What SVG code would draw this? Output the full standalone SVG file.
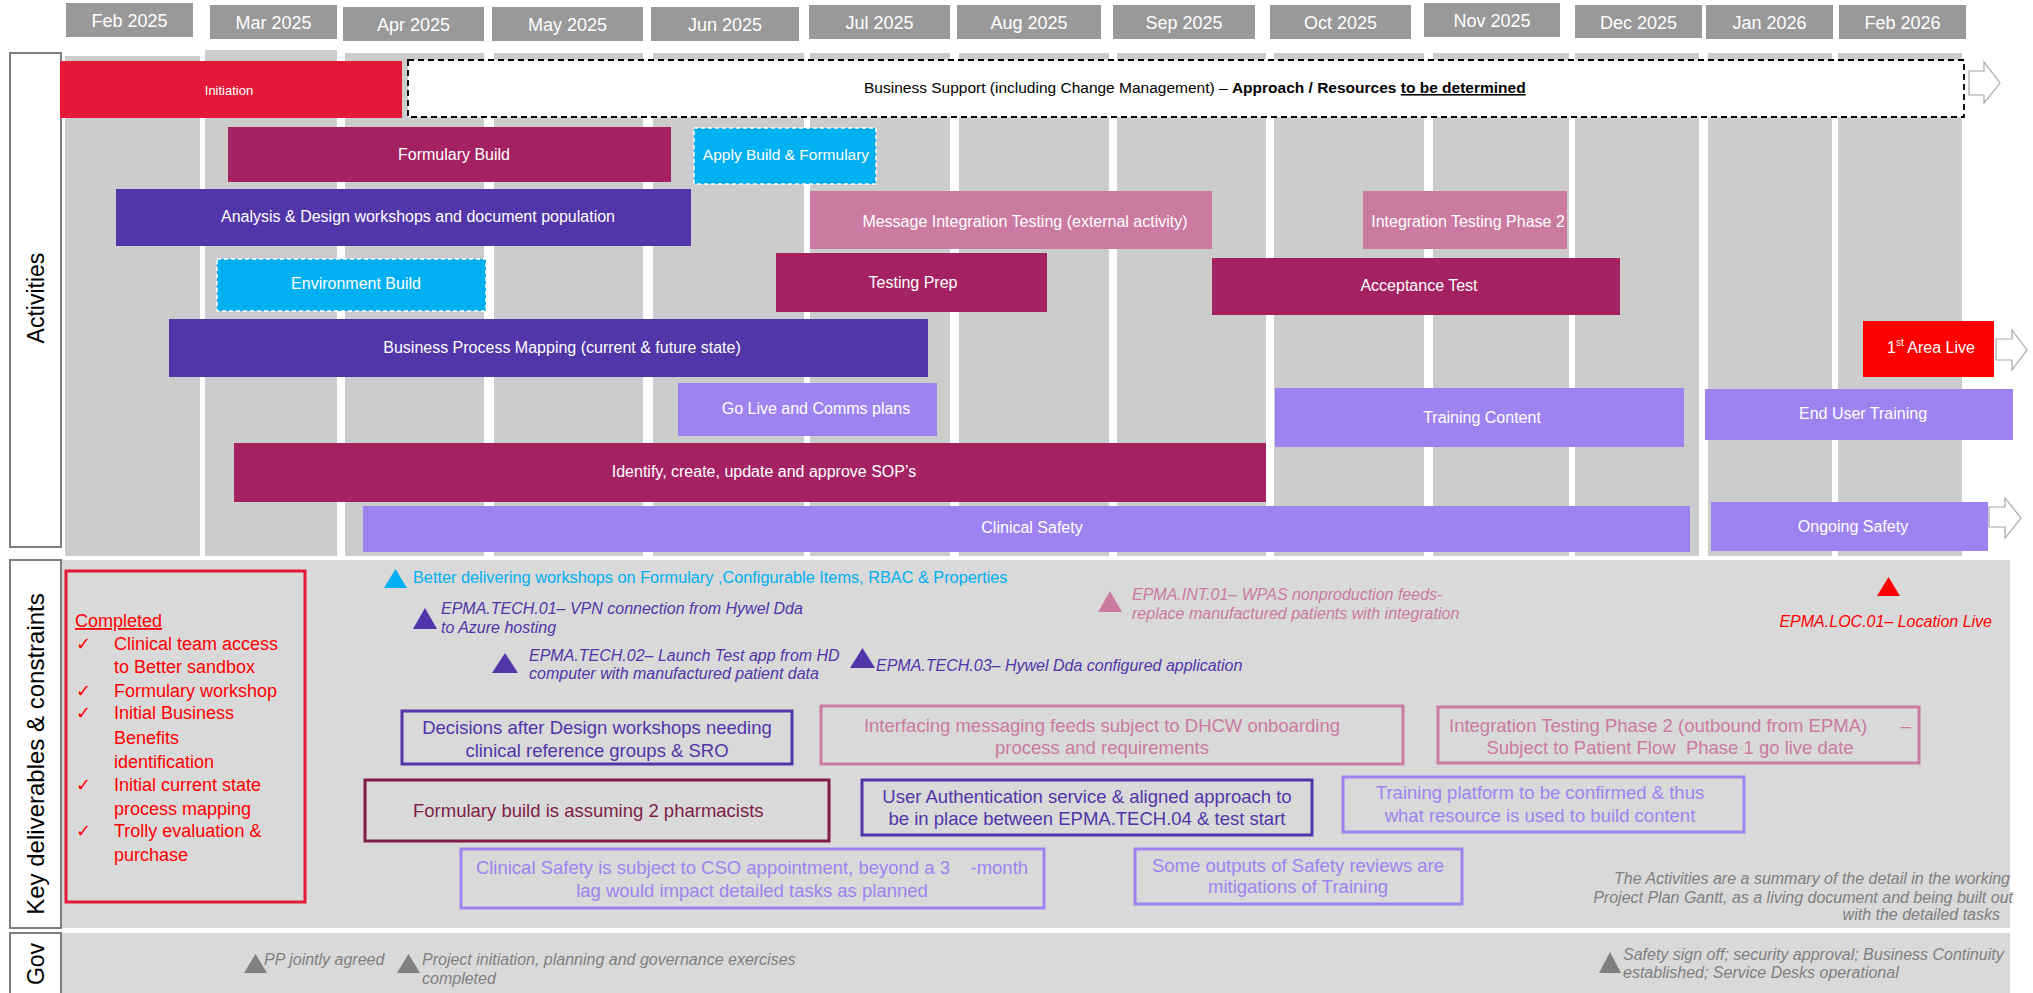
<svg xmlns="http://www.w3.org/2000/svg" width="2033" height="993" viewBox="0 0 2033 993">
<style>
text{font-family:"Liberation Sans",Arial,sans-serif}
.mh{fill:#999999}
.mt{fill:#ffffff;font-size:18px;text-anchor:middle}
.col{fill:#cccccc}
.lbl{fill:#ffffff;stroke:#7f7f7f;stroke-width:2}
.lt{fill:#000000;font-size:23px;text-anchor:middle}
.bt{fill:#ffffff;font-size:16px;text-anchor:middle}
.mag{fill:#a52262}
.dpu{fill:#5135a9}
.lpu{fill:#9e83f0}
.pnk{fill:#cb7aa1}
.cy{fill:#00b0f0;stroke:#ffffff;stroke-width:1.5;stroke-dasharray:4 3}
.oa{fill:#ffffff;stroke:#a6a6a6;stroke-width:1.2}
.box{fill:none;stroke-width:3}
.bx{font-size:18.5px;text-anchor:middle}
.bs{font-size:18.5px;text-anchor:start}
.it{font-style:italic;font-size:16px}
.gv{font-style:italic;font-size:16px;fill:#7f7f7f}
</style>

<!-- month headers -->
<g id="months">
<rect class="mh" x="66" y="3" width="127" height="34"/><text class="mt" x="129.5" y="27">Feb 2025</text>
<rect class="mh" x="210" y="5" width="127" height="34"/><text class="mt" x="273.5" y="29">Mar 2025</text>
<rect class="mh" x="343" y="7" width="141" height="34"/><text class="mt" x="413.5" y="31">Apr 2025</text>
<rect class="mh" x="492" y="7" width="151" height="34"/><text class="mt" x="567.5" y="31">May 2025</text>
<rect class="mh" x="651" y="7" width="148" height="34"/><text class="mt" x="725" y="31">Jun 2025</text>
<rect class="mh" x="809" y="5" width="141" height="34"/><text class="mt" x="879.5" y="29">Jul 2025</text>
<rect class="mh" x="957" y="5" width="144" height="34"/><text class="mt" x="1029" y="29">Aug 2025</text>
<rect class="mh" x="1113" y="5" width="142" height="34"/><text class="mt" x="1184" y="29">Sep 2025</text>
<rect class="mh" x="1270" y="5" width="141" height="34"/><text class="mt" x="1340.5" y="29">Oct 2025</text>
<rect class="mh" x="1424" y="3" width="136" height="34"/><text class="mt" x="1492" y="27">Nov 2025</text>
<rect class="mh" x="1575" y="5" width="127" height="33"/><text class="mt" x="1638.5" y="29">Dec 2025</text>
<rect class="mh" x="1706" y="5" width="127" height="34"/><text class="mt" x="1769.5" y="29">Jan 2026</text>
<rect class="mh" x="1839" y="5" width="127" height="34"/><text class="mt" x="1902.5" y="29">Feb 2026</text>
</g>

<!-- column backgrounds -->
<g id="columns">
<rect class="col" x="65" y="56" width="135" height="500"/>
<rect class="col" x="205" y="50" width="132" height="506"/>
<rect class="col" x="345" y="53" width="139" height="503"/>
<rect class="col" x="494" y="53" width="149" height="503"/>
<rect class="col" x="653" y="53" width="151" height="503"/>
<rect class="col" x="810" y="53" width="140" height="503"/>
<rect class="col" x="959" y="53" width="150" height="503"/>
<rect class="col" x="1117" y="53" width="149" height="503"/>
<rect class="col" x="1274" y="53" width="150" height="503"/>
<rect class="col" x="1433" y="53" width="136" height="503"/>
<rect class="col" x="1575" y="53" width="124" height="503"/>
<rect class="col" x="1708" y="53" width="124" height="503"/>
<rect class="col" x="1838" y="53" width="124" height="503"/>
</g>

<!-- section backgrounds -->
<g id="sections">
<rect x="62" y="560" width="1948" height="368" fill="#d9d9d9"/>
<rect x="62" y="933" width="1948" height="60" fill="#d9d9d9"/>
</g>

<!-- row labels -->
<g id="label-activities">
<rect class="lbl" x="10" y="53" width="51" height="494"/>
<text class="lt" transform="translate(44 298) rotate(-90)">Activities</text>
</g>
<g id="label-key">
<rect class="lbl" x="10" y="560" width="51" height="368"/>
<text class="lt" transform="translate(44 754) rotate(-90)" style="font-size:24px">Key deliverables &amp; constraints</text>
</g>
<g id="label-gov">
<rect class="lbl" x="10" y="933" width="51" height="62"/>
<text class="lt" transform="translate(44 964) rotate(-90)">Gov</text>
</g>

<!-- activity bars -->
<g id="initiation">
<rect x="60" y="61" width="342" height="57" fill="#e31937"/>
<text class="bt" x="229" y="95" style="font-size:13px">Initiation</text>
</g>
<g id="business-support">
<rect x="408" y="60" width="1556" height="57" fill="#ffffff" stroke="#000000" stroke-width="1.8" stroke-dasharray="6 4"/>
<text x="864" y="93" style="font-size:15.5px" fill="#000000">Business Support (including Change Management) – <tspan font-weight="bold">Approach / Resources </tspan><tspan font-weight="bold" text-decoration="underline">to be determined</tspan></text>
<polygon class="oa" points="1969,71 1984,71 1984,62 2000,83 1984,103 1984,95 1969,95"/>
</g>
<g id="formulary-build">
<rect class="mag" x="228" y="127" width="443" height="55"/>
<text class="bt" x="454" y="160">Formulary Build</text>
</g>
<g id="apply-build">
<rect class="cy" x="694" y="128" width="182" height="56"/>
<text class="bt" x="786" y="160" style="font-size:15.5px">Apply Build &amp; Formulary</text>
</g>
<g id="analysis-design">
<rect class="dpu" x="116" y="189" width="575" height="57"/>
<text class="bt" x="418" y="222">Analysis &amp; Design workshops and document population</text>
</g>
<g id="message-integration">
<rect class="pnk" x="810" y="191" width="402" height="58"/>
<text class="bt" x="1025" y="227">Message Integration Testing (external activity)</text>
</g>
<g id="integration-phase2">
<rect class="pnk" x="1363" y="191" width="204" height="58"/>
<text class="bt" x="1468" y="227">Integration Testing Phase 2</text>
</g>
<g id="environment-build">
<rect class="cy" x="217" y="259" width="269" height="52"/>
<text class="bt" x="356" y="289">Environment Build</text>
</g>
<g id="testing-prep">
<rect class="mag" x="776" y="253" width="271" height="59"/>
<text class="bt" x="913" y="288">Testing Prep</text>
</g>
<g id="acceptance-test">
<rect class="mag" x="1212" y="258" width="408" height="57"/>
<text class="bt" x="1419" y="291">Acceptance Test</text>
</g>
<g id="business-process-mapping">
<rect class="dpu" x="169" y="319" width="759" height="58"/>
<text class="bt" x="562" y="353">Business Process Mapping (current &amp; future state)</text>
</g>
<g id="first-area-live">
<rect x="1863" y="321" width="131" height="56" fill="#ff0000"/>
<text class="bt" x="1931" y="353">1<tspan dy="-7" style="font-size:10px">st</tspan><tspan dy="7"> Area Live</tspan></text>
<polygon class="oa" points="1996,339 2012,339 2012,330 2027,350 2012,370 2012,360 1996,360"/>
</g>
<g id="go-live-comms">
<rect class="lpu" x="678" y="383" width="259" height="53"/>
<text class="bt" x="816" y="414">Go Live and Comms plans</text>
</g>
<g id="training-content">
<rect class="lpu" x="1275" y="388" width="409" height="59"/>
<text class="bt" x="1482" y="423">Training Content</text>
</g>
<g id="end-user-training">
<rect class="lpu" x="1705" y="389" width="308" height="51"/>
<text class="bt" x="1863" y="419">End User Training</text>
</g>
<g id="sops">
<rect class="mag" x="234" y="443" width="1032" height="59"/>
<text class="bt" x="764" y="477">Identify, create, update and approve SOP’s</text>
</g>
<g id="clinical-safety">
<rect class="lpu" x="363" y="506" width="1327" height="46"/>
<text class="bt" x="1032" y="533">Clinical Safety</text>
</g>
<g id="ongoing-safety">
<rect class="lpu" x="1711" y="502" width="277" height="49"/>
<text class="bt" x="1853" y="532">Ongoing Safety</text>
<polygon class="oa" points="1989,507 2005,507 2005,498 2021,518 2005,538 2005,527 1989,527"/>
</g>

<!-- key deliverables -->
<g id="completed">
<rect class="box" x="66" y="571" width="239" height="331" stroke="#e31937"/>
<g fill="#ff0000" style="font-size:18px">
<text x="75" y="627" text-decoration="underline">Completed </text>
<text x="76" y="650">✓</text><text x="114" y="650">Clinical team access</text>
<text x="114" y="673">to Better sandbox</text>
<text x="76" y="697">✓</text><text x="114" y="697">Formulary workshop</text>
<text x="76" y="719">✓</text><text x="114" y="719">Initial Business</text>
<text x="114" y="744">Benefits</text>
<text x="114" y="768">identification</text>
<text x="76" y="791">✓</text><text x="114" y="791">Initial current state</text>
<text x="114" y="815">process mapping</text>
<text x="76" y="837">✓</text><text x="114" y="837">Trolly evaluation &amp;</text>
<text x="114" y="861">purchase</text>
</g>
</g>
<g id="better-workshops">
<polygon points="384,588 395.5,569 407,588" fill="#00b0f0"/>
<text x="413" y="583" fill="#00b0f0" style="font-size:16.3px">Better delivering workshops on Formulary ,Configurable Items, RBAC &amp; Properties</text>
</g>
<g id="epma-tech-01">
<polygon points="413,629 425,608 437,629" fill="#5135a9"/>
<text class="it" x="441" y="614" fill="#5135a9">EPMA.TECH.01– VPN connection from Hywel Dda</text>
<text class="it" x="441" y="633" fill="#5135a9">to Azure hosting</text>
</g>
<g id="epma-tech-02">
<polygon points="492,673 505,653 518,673" fill="#5135a9"/>
<text class="it" x="529" y="661" fill="#5135a9">EPMA.TECH.02– Launch Test app from HD</text>
<text class="it" x="529" y="679" fill="#5135a9">computer with manufactured patient data</text>
</g>
<g id="epma-tech-03">
<polygon points="850,668 862.5,648 875,668" fill="#5135a9"/>
<text class="it" x="876" y="671" fill="#5135a9">EPMA.TECH.03– Hywel Dda configured application</text>
</g>
<g id="epma-int-01">
<polygon points="1098,612 1110,591 1122,612" fill="#cb7aa1"/>
<text class="it" x="1132" y="600" fill="#cb7aa1">EPMA.INT.01– WPAS nonproduction feeds-</text>
<text class="it" x="1132" y="619" fill="#cb7aa1">replace manufactured patients with integration</text>
</g>
<g id="epma-loc-01">
<polygon points="1877,596 1888.5,577 1900,596" fill="#ff0000"/>
<text class="it" x="1992" y="627" fill="#ff0000" style="text-anchor:end">EPMA.LOC.01– Location Live</text>
</g>
<g id="decisions">
<rect class="box" x="402" y="711" width="390" height="53" stroke="#5135a9"/>
<text class="bx" x="597" y="734" fill="#5135a9">Decisions after Design workshops needing</text>
<text class="bx" x="597" y="757" fill="#5135a9">clinical reference groups &amp; SRO</text>
</g>
<g id="interfacing">
<rect class="box" x="821" y="706" width="582" height="58" stroke="#cb7aa1"/>
<text class="bx" x="1102" y="732" fill="#cb7aa1">Interfacing messaging feeds subject to DHCW onboarding</text>
<text class="bx" x="1102" y="754" fill="#cb7aa1">process and requirements</text>
</g>
<g id="integration-phase2-note">
<rect class="box" x="1438" y="707" width="481" height="56" stroke="#cb7aa1"/>
<text class="bs" x="1449" y="732" fill="#cb7aa1">Integration Testing Phase 2 (outbound from EPMA)</text>
<text class="bx" x="1906" y="732" fill="#cb7aa1">–</text>
<text class="bx" x="1670" y="754" fill="#cb7aa1" style="white-space:pre">Subject to Patient Flow  Phase 1 go live date</text>
</g>
<g id="formulary-assumption">
<rect class="box" x="365" y="780" width="464" height="61" stroke="#7f1d48"/>
<text class="bs" x="413" y="817" fill="#7f1d48">Formulary build is assuming 2 pharmacists</text>
</g>
<g id="user-auth">
<rect class="box" x="862" y="780" width="450" height="55" stroke="#5135a9"/>
<text class="bx" x="1087" y="803" fill="#5135a9">User Authentication service &amp; aligned approach to</text>
<text class="bx" x="1087" y="825" fill="#5135a9">be in place between EPMA.TECH.04 &amp; test start</text>
</g>
<g id="training-platform">
<rect class="box" x="1343" y="777" width="401" height="55" stroke="#9e83f0"/>
<text class="bx" x="1540" y="799" fill="#9e83f0">Training platform to be confirmed &amp; thus</text>
<text class="bx" x="1540" y="822" fill="#9e83f0">what resource is used to build content</text>
</g>
<g id="cso">
<rect class="box" x="461" y="849" width="583" height="59" stroke="#9e83f0"/>
<text class="bx" x="752" y="874" fill="#9e83f0" style="white-space:pre">Clinical Safety is subject to CSO appointment, beyond a 3    -month</text>
<text class="bx" x="752" y="897" fill="#9e83f0">lag would impact detailed tasks as planned</text>
</g>
<g id="safety-outputs">
<rect class="box" x="1135" y="849" width="327" height="55" stroke="#9e83f0"/>
<text class="bx" x="1298" y="872" fill="#9e83f0">Some outputs of Safety reviews are</text>
<text class="bx" x="1298" y="893" fill="#9e83f0">mitigations of Training</text>
</g>
<g id="activities-note">
<text class="gv" x="2010" y="884" style="text-anchor:end">The Activities are a summary of the detail in the working</text>
<text class="gv" x="2013" y="903" style="text-anchor:end">Project Plan Gantt, as a living document and being built out</text>
<text class="gv" x="2000" y="920" style="text-anchor:end">with the detailed tasks</text>
</g>

<!-- governance -->
<g id="gov-pp">
<polygon points="244,973 255.5,954 267,973" fill="#7f7f7f"/>
<text class="gv" x="264" y="965">PP jointly agreed</text>
</g>
<g id="gov-initiation">
<polygon points="397,973 408.5,954 420,973" fill="#7f7f7f"/>
<text class="gv" x="422" y="965">Project initiation, planning and governance exercises</text>
<text class="gv" x="422" y="984">completed</text>
</g>
<g id="gov-safety">
<polygon points="1599,973 1610,952 1621,973" fill="#7f7f7f"/>
<text class="gv" x="1623" y="960">Safety sign off; security approval; Business Continuity</text>
<text class="gv" x="1623" y="978">established; Service Desks operational</text>
</g>

<g id="connectors"></g>
</svg>
